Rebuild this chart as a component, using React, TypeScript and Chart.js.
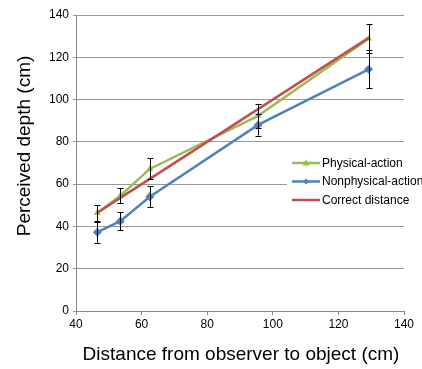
import React, { useEffect, useRef } from "react";
import { Chart, registerables } from "chart.js";

Chart.register(...registerables);

const distances = [46.5, 53.5, 62.5, 95.5, 129.2];
const physicalAction = [46.3, 54.5, 67.2, 92.3, 128.8];
const physicalErr = [3.8, 3.5, 5, 5.7, 7];
const nonphysicalAction = [37.3, 42.5, 54, 88, 114.3];
const nonphysicalErr = [5, 4.2, 5, 5, 9];
const correctDistance = [46.5, 53.5, 62.5, 95.5, 129.2];
const seriesNames = ["Physical-action", "Nonphysical-action", "Correct distance"];

const GREEN = "#9BBB59";
const BLUE = "#4F81BD";
const RED = "#C0504D";
const FONT = "'Liberation Sans', Arial, sans-serif";

export default function App() {
  const ref = useRef<HTMLCanvasElement>(null);
  useEffect(() => {
    document.body.style.margin = "0";
    const pts = (ys: number[]) => distances.map((x, i) => ({ x, y: ys[i] }));

    const errorBars = {
      id: "errorBars",
      afterDatasetsDraw(chart: any) {
        const { ctx, scales } = chart;
        const xs = scales.x, ys = scales.y;
        ctx.save();
        ctx.strokeStyle = "#000";
        ctx.lineWidth = 1;
        const draw = (vals: number[], errs: number[]) => {
          vals.forEach((v, i) => {
            const px = Math.round(xs.getPixelForValue(distances[i])) + 0.5;
            const t = ys.getPixelForValue(v + errs[i]);
            const b = ys.getPixelForValue(v - errs[i]);
            ctx.beginPath();
            ctx.moveTo(px, t);
            ctx.lineTo(px, b);
            ctx.moveTo(px - 3, Math.round(t) + 0.5);
            ctx.lineTo(px + 3, Math.round(t) + 0.5);
            ctx.moveTo(px - 3, Math.round(b) + 0.5);
            ctx.lineTo(px + 3, Math.round(b) + 0.5);
            ctx.stroke();
          });
        };
        draw(nonphysicalAction, nonphysicalErr);
        draw(physicalAction, physicalErr);
        ctx.restore();
      },
    };

    const decorations = {
      id: "decorations",
      afterDraw(chart: any) {
        const { ctx } = chart;
        ctx.save();
        // legend
        ctx.fillStyle = "#fff";
        ctx.fillRect(287, 154, 135, 54);
        const colors = [GREEN, BLUE, RED];
        const rows = [163, 181.5, 200];
        ctx.font = `12px ${FONT}`;
        ctx.textBaseline = "middle";
        rows.forEach((y, i) => {
          ctx.strokeStyle = colors[i];
          ctx.lineWidth = 2.5;
          ctx.beginPath();
          ctx.moveTo(292, y);
          ctx.lineTo(320, y);
          ctx.stroke();
          ctx.fillStyle = colors[i];
          if (i === 0) {
            ctx.beginPath();
            ctx.moveTo(306, y - 3.5);
            ctx.lineTo(309.5, y + 2.5);
            ctx.lineTo(302.5, y + 2.5);
            ctx.closePath();
            ctx.fill();
          } else if (i === 1) {
            ctx.beginPath();
            ctx.moveTo(306, y - 3);
            ctx.lineTo(309, y);
            ctx.lineTo(306, y + 3);
            ctx.lineTo(303, y);
            ctx.closePath();
            ctx.fill();
          }
          ctx.fillStyle = "#000";
          ctx.textAlign = "left";
          ctx.fillText(seriesNames[i], 322, y + 0.5);
        });
        // axis titles
        ctx.fillStyle = "#000";
        ctx.font = `19px ${FONT}`;
        ctx.textAlign = "center";
        ctx.textBaseline = "middle";
        ctx.fillText("Distance from observer to object (cm)", 241, 355);
        ctx.translate(24.5, 146);
        ctx.rotate(-Math.PI / 2);
        ctx.fillText("Perceived depth (cm)", 0, 0);
        ctx.restore();
      },
    };

    const chart = new Chart(ref.current!, {
      type: "line",
      data: {
        datasets: [
          {
            label: seriesNames[0],
            data: pts(physicalAction),
            borderColor: GREEN,
            backgroundColor: GREEN,
            borderWidth: 2.5,
            pointStyle: "triangle",
            pointRadius: 4,
            pointBorderWidth: 0,
            order: 1,
          },
          {
            label: seriesNames[1],
            data: pts(nonphysicalAction),
            borderColor: BLUE,
            backgroundColor: BLUE,
            borderWidth: 2.5,
            pointStyle: "rectRot",
            pointRadius: 4.5,
            pointBorderWidth: 0,
            order: 2,
          },
          {
            label: seriesNames[2],
            data: pts(correctDistance),
            borderColor: RED,
            backgroundColor: RED,
            borderWidth: 2.5,
            pointRadius: 0,
            order: 0,
          },
        ],
      },
      options: {
        animation: false,
        responsive: false,
        layout: { padding: { top: 15, right: 18, left: 0, bottom: 0 } },
        plugins: { legend: { display: false }, tooltip: { enabled: false } },
        scales: {
          x: {
            type: "linear",
            min: 40,
            max: 140,
            ticks: { stepSize: 20, color: "#000", font: { size: 12, family: FONT }, padding: 2 },
            grid: { display: true, drawOnChartArea: false, drawTicks: true, tickLength: 4, color: "#888" },
            border: { color: "#888", width: 1 },
            afterFit: (s: any) => { s.height = 58; },
          },
          y: {
            min: 0,
            max: 140,
            ticks: { stepSize: 20, color: "#000", font: { size: 12, family: FONT }, padding: 4 },
            grid: { color: "#999", tickLength: 3, lineWidth: 1 },
            border: { color: "#888", width: 1 },
            afterFit: (s: any) => { s.width = 76; },
          },
        },
      },
      plugins: [errorBars, decorations],
    });
    return () => chart.destroy();
  }, []);
  return <canvas ref={ref} width={422} height={369} style={{ display: "block" }} />;
}
